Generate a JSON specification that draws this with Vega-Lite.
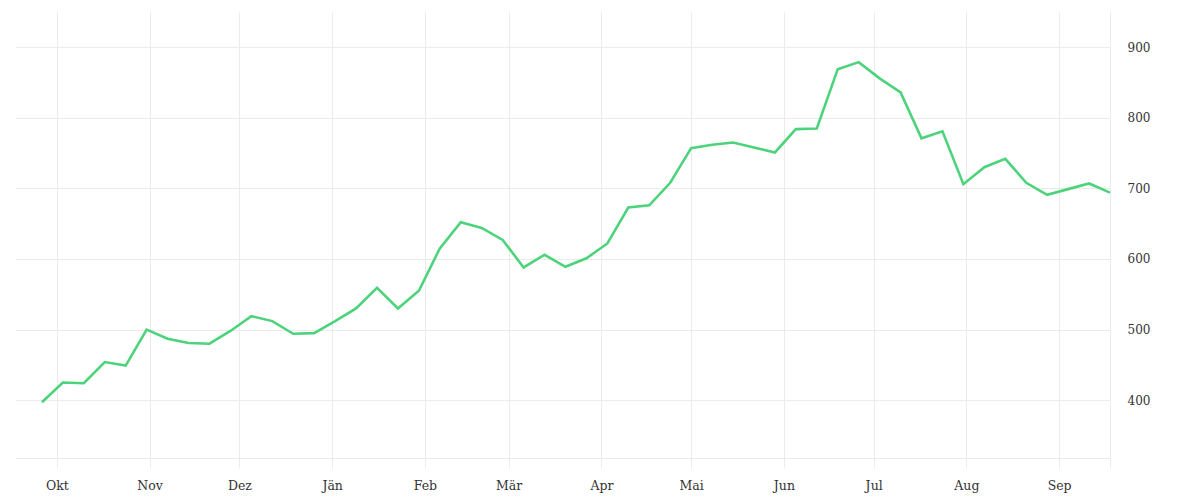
{
  "$schema": "https://vega.github.io/schema/vega-lite/v6.json",
  "width": 1095,
  "height": 446,
  "autosize": "none",
  "padding": {"left": 15, "top": 12, "right": 90, "bottom": 42},
  "background": "white",
  "data": {
    "values": [
      {"date": "2018-09-26", "value": 397},
      {"date": "2018-10-03", "value": 425},
      {"date": "2018-10-10", "value": 424},
      {"date": "2018-10-17", "value": 454},
      {"date": "2018-10-24", "value": 449},
      {"date": "2018-10-31", "value": 500},
      {"date": "2018-11-07", "value": 487},
      {"date": "2018-11-14", "value": 481},
      {"date": "2018-11-21", "value": 480},
      {"date": "2018-11-28", "value": 498},
      {"date": "2018-12-05", "value": 519},
      {"date": "2018-12-12", "value": 512},
      {"date": "2018-12-19", "value": 494},
      {"date": "2018-12-26", "value": 495},
      {"date": "2019-01-02", "value": 512},
      {"date": "2019-01-09", "value": 530},
      {"date": "2019-01-16", "value": 559},
      {"date": "2019-01-23", "value": 530},
      {"date": "2019-01-30", "value": 555},
      {"date": "2019-02-06", "value": 615},
      {"date": "2019-02-13", "value": 652},
      {"date": "2019-02-20", "value": 644},
      {"date": "2019-02-27", "value": 627},
      {"date": "2019-03-06", "value": 588},
      {"date": "2019-03-13", "value": 606},
      {"date": "2019-03-20", "value": 589},
      {"date": "2019-03-27", "value": 601},
      {"date": "2019-04-03", "value": 622},
      {"date": "2019-04-10", "value": 673},
      {"date": "2019-04-17", "value": 676},
      {"date": "2019-04-24", "value": 708},
      {"date": "2019-05-01", "value": 757},
      {"date": "2019-05-08", "value": 762},
      {"date": "2019-05-15", "value": 765},
      {"date": "2019-05-22", "value": 758},
      {"date": "2019-05-29", "value": 751},
      {"date": "2019-06-05", "value": 784},
      {"date": "2019-06-12", "value": 785},
      {"date": "2019-06-19", "value": 869},
      {"date": "2019-06-26", "value": 879},
      {"date": "2019-07-03", "value": 856},
      {"date": "2019-07-10", "value": 836},
      {"date": "2019-07-17", "value": 771},
      {"date": "2019-07-24", "value": 781},
      {"date": "2019-07-31", "value": 706},
      {"date": "2019-08-07", "value": 730},
      {"date": "2019-08-14", "value": 742},
      {"date": "2019-08-21", "value": 708},
      {"date": "2019-08-28", "value": 691},
      {"date": "2019-09-04", "value": 699},
      {"date": "2019-09-11", "value": 707},
      {"date": "2019-09-18", "value": 694}
    ]
  },
  "mark": {"type": "line", "color": "#4dd37b", "strokeWidth": 2.6, "clip": true},
  "encoding": {
    "x": {
      "field": "date",
      "type": "temporal",
      "scale": {"type": "utc", "domain": ["2018-09-17", "2019-09-18"]},
      "axis": {
        "title": null,
        "values": [
          {"year": 2018, "month": 10, "date": 1, "utc": true},
          {"year": 2018, "month": 11, "date": 1, "utc": true},
          {"year": 2018, "month": 12, "date": 1, "utc": true},
          {"year": 2019, "month": 1, "date": 1, "utc": true},
          {"year": 2019, "month": 2, "date": 1, "utc": true},
          {"year": 2019, "month": 3, "date": 1, "utc": true},
          {"year": 2019, "month": 4, "date": 1, "utc": true},
          {"year": 2019, "month": 5, "date": 1, "utc": true},
          {"year": 2019, "month": 6, "date": 1, "utc": true},
          {"year": 2019, "month": 7, "date": 1, "utc": true},
          {"year": 2019, "month": 8, "date": 1, "utc": true},
          {"year": 2019, "month": 9, "date": 1, "utc": true},
          {"year": 2019, "month": 9, "date": 18, "utc": true}
        ],
        "labelExpr": "utcdate(datum.value) == 1 ? ['Jän','Feb','Mär','Apr','Mai','Jun','Jul','Aug','Sep','Okt','Nov','Dez'][utcmonth(datum.value)] : ''",
        "grid": true,
        "gridColor": "#ebebeb",
        "domainColor": "#ebebeb",
        "tickColor": "#ebebeb",
        "tickSize": 10,
        "labelPadding": 11,
        "labelFontSize": 12.5,
        "labelAngle": 0
      }
    },
    "y": {
      "field": "value",
      "type": "quantitative",
      "scale": {"domain": [318, 950], "nice": false, "zero": false},
      "axis": {
        "title": null,
        "orient": "right",
        "values": [400, 500, 600, 700, 800, 900],
        "grid": true,
        "gridColor": "#ebebeb",
        "domain": false,
        "ticks": false,
        "labelPadding": 17
      }
    }
  },
  "config": {
    "view": {"stroke": null},
    "axis": {
      "labelFont": "DejaVu Serif",
      "labelFontSize": 12,
      "labelColor": "#333333",
      "gridWidth": 1,
      "domainWidth": 1,
      "tickWidth": 1
    }
  }
}
